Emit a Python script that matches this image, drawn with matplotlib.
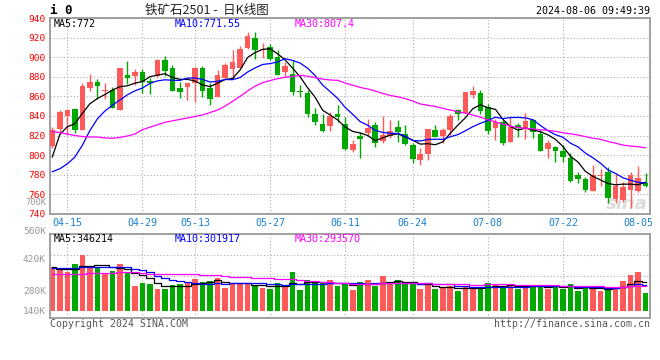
import matplotlib
matplotlib.use('Agg')
import matplotlib.pyplot as plt
import numpy as np
import pandas as pd

# trading days shown on the chart
dates = ['04-11', '04-12', '04-15', '04-16', '04-17', '04-18', '04-19', '04-22', '04-23', '04-24',
         '04-25', '04-26', '04-29', '04-30', '05-06', '05-07', '05-08', '05-09', '05-10', '05-13',
         '05-14', '05-15', '05-16', '05-17', '05-20', '05-21', '05-22', '05-23', '05-24', '05-27',
         '05-28', '05-29', '05-30', '05-31', '06-03', '06-04', '06-05', '06-06', '06-07', '06-11',
         '06-12', '06-13', '06-14', '06-17', '06-18', '06-19', '06-20', '06-21', '06-24', '06-25',
         '06-26', '06-27', '06-28', '07-01', '07-02', '07-03', '07-04', '07-05', '07-08', '07-09',
         '07-10', '07-11', '07-12', '07-15', '07-16', '07-17', '07-18', '07-19', '07-22', '07-23',
         '07-24', '07-25', '07-26', '07-29', '07-30', '07-31', '08-01', '08-02', '08-05', '08-06']

opens = [809, 827, 840, 847, 826, 869, 874.3, 866, 867, 846.5,
         881.8, 881.2, 884.8, 875.5, 880.5, 897, 889, 868.6, 870, 873.8,
         889, 869, 859.7, 878.8, 887.5, 889, 909, 920, 907.5, 910.5,
         900.3, 885.3, 882.7, 865.8, 863.4, 842.3, 831.8, 830, 841.6, 831.8,
         805.2, 819.5, 822.2, 830.7, 814.4, 819.8, 828.7, 821.5, 810.3, 795,
         800.8, 825.6, 819.8, 825.6, 846.1, 843.3, 861.4, 863.1, 848.8, 828,
         834.1, 813.7, 830.7, 827.3, 835.8, 821.5, 805.9, 807.9, 804.5, 796.7,
         779.6, 775.5, 763.6, 778.6, 783, 755.1, 754.1, 764.3, 763.6, 771.1]
closes = [826, 844, 846, 826, 871, 875, 871, 866.5, 848.5, 888.7,
          879.1, 884.8, 874.5, 873.5, 896.8, 886.2, 865.7, 864.8, 873.3, 889,
          865.3, 857.7, 881.8, 892, 894.8, 908.2, 921.7, 907, 908.5, 898.2,
          882, 891, 864.5, 864.4, 842, 833.6, 824.6, 840, 839.3, 805.9,
          811.3, 816.4, 827.3, 812.7, 820.5, 824.6, 823.9, 811.3, 795.6, 800.8,
          826.6, 818.8, 825.6, 840, 842, 864.1, 865.5, 845.4, 825, 834.1,
          812.7, 829, 827.3, 834.8, 824, 804.5, 812.7, 804.5, 798.4, 773.8,
          775.2, 764.3, 779.6, 780, 755.8, 768.4, 767.7, 779.6, 776.9, 768.7]
highs = [829, 846.5, 847.5, 848, 874, 882.5, 878, 874, 870, 889.5,
         896, 888, 888, 879, 898.5, 901.5, 892, 875, 874, 890.4,
         891, 874, 886.5, 894.4, 907, 911.7, 925.7, 925.3, 915, 914,
         907.4, 895, 897.5, 872, 866.5, 848.5, 841.6, 844.4, 851.2, 838.6,
         815.4, 823.2, 836.9, 833.5, 840, 835.8, 835.5, 830.7, 812, 806.9,
         827, 830.7, 828, 842, 847.1, 864.8, 870.6, 866.5, 851.9, 837,
         836, 839.3, 832.4, 842.7, 837, 825.6, 815.4, 809.6, 810.3, 801.8,
         783, 778, 789.9, 785.4, 788.1, 780.7, 772.8, 783, 788.8, 782]
lows = [807.6, 824, 821, 823, 825.3, 865.5, 857, 857.5, 848, 846,
        872.5, 871.5, 863, 862, 880, 881, 865, 858.5, 856.3, 854.2,
        859.7, 850.8, 859.5, 878, 878, 888.5, 908.5, 898, 899.3, 897.5,
        881.5, 880.1, 861.7, 859.7, 839.3, 830.5, 823.2, 824.6, 833.5, 805,
        802.8, 796.7, 819.8, 808.6, 812.7, 817.8, 813.7, 810.8, 792.2, 789.9,
        795, 818, 812, 820.5, 835.8, 842.7, 858, 841.6, 821.5, 815.4,
        810.3, 813, 818.8, 816.4, 817.8, 804, 797.4, 792.6, 793.3, 772.8,
        771.1, 762, 763.3, 768.7, 751.4, 750.7, 752.4, 746.2, 762.6, 767.7]

# volume, thousand lots
volumes = [519, 480, 456, 550, 655, 511, 519, 449, 472, 550,
           460, 293, 328, 316, 257, 257, 304, 312, 343, 374,
           335, 351, 390, 273, 312, 324, 324, 304, 273, 257,
           332, 304, 460, 246, 363, 324, 324, 363, 293, 316,
           246, 339, 363, 296, 410, 316, 363, 316, 316, 257,
           316, 257, 277, 293, 234, 293, 257, 281, 328, 304,
           281, 316, 257, 304, 304, 304, 257, 304, 257, 316,
           234, 277, 293, 234, 269, 285, 351, 421, 456, 211]

# moving average values at the left edge (window reaches before the first day)
ma5_head = [798, 821, 829, 832]
ma10_head = [783, 786, 791, 798, 810, 825, 837, 845, 851]
ma30_head = [824, 823, 821.5, 820, 819, 818.5, 818.5, 817.5, 817.2, 818,
             819.5, 821.5, 826, 828.5, 831, 833.5, 835, 836.5, 838, 839.5,
             841, 843.5, 846, 850, 855, 860, 865.5, 870.5, 874]
vma5_head = [511, 490, 488, 490]
vma10_head = [500, 500, 502, 505, 510, 512, 512, 512, 512]
vma30_head = [429, 429, 429, 430, 435, 440, 445, 448, 450, 452,
              452, 452, 445, 435, 429, 429, 429, 429, 429, 429,
              427, 425, 420, 410, 402, 402, 400, 390, 383]

date_ticks = ['04-15', '04-29', '05-13', '05-27', '06-11', '06-24', '07-08', '07-22', '08-05']
price_ticks = list(range(740, 941, 20))
vol_labels = ['560K', '420K', '280K', '140K']

RED = '#ff5a5a'
GREEN = '#00a800'
MONO = 'DejaVu Sans Mono'
W, H = 660, 360


def moving_avg(values, n, head):
    s = pd.Series(values, dtype=float).rolling(n).mean()
    s.iloc[:n - 1] = head
    return s.values


def px(x, y):
    return x / W, 1 - y / H


x = np.arange(len(dates))
o = np.array(opens)
c = np.array(closes)
up = c >= o
colors = [RED if u else GREEN for u in up]

fig = plt.figure(figsize=(6.6, 3.6), dpi=100)
ax = fig.add_axes([50 / W, (H - 213.8) / H, 600 / W, 195.7 / H])
axv = fig.add_axes([50 / W, (H - 318) / H, 600 / W, 83.7 / H])

grid_kw = dict(color='#aaaaaa', lw=0.8, linestyle=(0, (1, 2)))
tick_pos = [dates.index(d) for d in date_ticks]

for a in (ax, axv):
    for s in a.spines.values():
        s.set_color('#999999')
        s.set_linewidth(1.3)
    a.set_xlim(-0.306, 79.59)
    for t in tick_pos[:-1]:
        a.axvline(t, zorder=0, **grid_kw)
    a.tick_params(length=0)

# candles
ax.vlines(x, lows, highs, colors=colors, lw=1, zorder=2)
body = np.maximum(np.abs(c - o), 0.8)
ax.bar(x, body, bottom=np.minimum(o, c), width=0.75, color=colors, zorder=3)

ax.plot(x, moving_avg(closes, 5, ma5_head), color='black', lw=0.9, zorder=4)
ax.plot(x, moving_avg(closes, 10, ma10_head), color='#0000ff', lw=0.9, zorder=4)
ax.plot(x, moving_avg(closes, 30, ma30_head), color='#ff00ff', lw=0.9, zorder=4)

ax.set_ylim(740, 940)
ax.set_yticks(price_ticks)
ax.yaxis.grid(True, **grid_kw)
ax.set_axisbelow(True)
ax.tick_params(axis='y', labelcolor='#ff0000', labelsize=6.8, pad=3)
for lab in ax.get_yticklabels():
    lab.set_family(MONO)
ax.set_xticks(tick_pos)
ax.set_xticklabels(date_ticks, family=MONO, fontsize=7.2, color='#1a80d0')
ax.tick_params(axis='x', pad=3)
ax.text(0.997, 0.05, 'sina', transform=ax.transAxes, ha='right', va='center',
        fontsize=13, style='italic', weight='bold', color='#dddddd', zorder=1)

# volume
axv.bar(x, volumes, width=0.75, color=colors, zorder=2)
axv.plot(x, moving_avg(volumes, 5, vma5_head), color='black', lw=0.9, drawstyle='steps-mid', zorder=3)
axv.plot(x, moving_avg(volumes, 10, vma10_head), color='#0000ff', lw=0.9, drawstyle='steps-mid', zorder=3)
axv.plot(x, moving_avg(volumes, 30, vma30_head), color='#ff00ff', lw=0.9, drawstyle='steps-mid', zorder=3)
axv.set_ylim(-82, 899)
lo, hi = axv.get_ylim()
axv.set_yticks([lo + (hi - lo) * k / 4 for k in (1, 2, 3)])
axv.set_yticklabels([])
axv.yaxis.grid(True, **grid_kw)
axv.set_xticks([])

# texts
fig.text(*px(50, 11), 'i 0', ha='left', va='center', family=MONO, weight='bold', fontsize=9)
fig.text(*px(207, 10), '铁矿石2501 -  日K线图', ha='center', va='center',
         family=['Noto Sans CJK SC', 'DejaVu Sans'], fontsize=9, color='#222222')
fig.text(*px(650, 11), '2024-08-06 09:49:39', ha='right', va='center', family=MONO, fontsize=7.2)

fig.text(*px(54, 24), 'MA5:772', ha='left', va='center', family=MONO, fontsize=7.2, color='black')
fig.text(*px(175, 24), 'MA10:771.55', ha='left', va='center', family=MONO, fontsize=7.2, color='#0000ff')
fig.text(*px(295, 24), 'MA30:807.4', ha='left', va='center', family=MONO, fontsize=7.2, color='#ff00ff')
fig.text(*px(54, 239), 'MA5:346214', ha='left', va='center', family=MONO, fontsize=7.2, color='black')
fig.text(*px(175, 239), 'MA10:301917', ha='left', va='center', family=MONO, fontsize=7.2, color='#0000ff')
fig.text(*px(295, 239), 'MA30:293570', ha='left', va='center', family=MONO, fontsize=7.2, color='#ff00ff')

fig.text(*px(46, 202.5), '700K', ha='right', va='center', family=MONO, fontsize=6.3, color='#999999')
for lab, yy in zip(vol_labels, [231, 259, 291, 311]):
    fig.text(*px(46, yy), lab, ha='right', va='center', family=MONO, fontsize=6.8, color='#999999')

fig.text(*px(50, 324), 'Copyright 2024 SINA.COM', ha='left', va='center', family=MONO, fontsize=7.1, color='#555555')
fig.text(*px(650, 324), 'http://finance.sina.com.cn', ha='right', va='center', family=MONO, fontsize=7.1, color='#555555')

fig.savefig('out.png', dpi=100, facecolor='white')
